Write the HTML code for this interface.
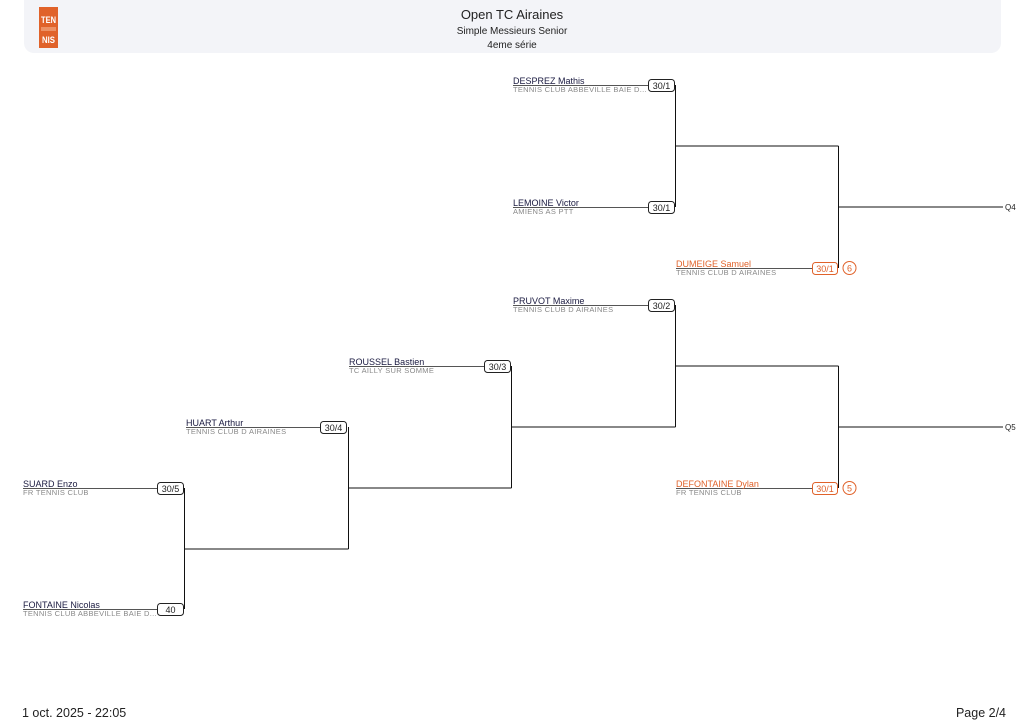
<!DOCTYPE html>
<html><head><meta charset="utf-8"><style>
body{margin:0;background:#fff;width:1024px;height:723px;overflow:hidden;font-family:"Liberation Sans",sans-serif}
</style></head><body>
<svg width="1024" height="723" xmlns="http://www.w3.org/2000/svg" font-family="Liberation Sans, sans-serif">
<rect x="24" y="-10" width="977" height="63" rx="10" fill="#f3f4f8"/>
<rect x="39" y="7" width="19" height="41" fill="#e0622a"/>
<text x="48.5" y="23" font-size="9" font-weight="bold" fill="#fff" text-anchor="middle" textLength="15" lengthAdjust="spacingAndGlyphs">TEN</text>
<text x="48.5" y="43" font-size="9" font-weight="bold" fill="#fff" text-anchor="middle" textLength="13" lengthAdjust="spacingAndGlyphs">NIS</text>
<line x1="41" y1="28" x2="56" y2="28" stroke="#f7c0a0" stroke-width="1"/>
<line x1="41" y1="30" x2="56" y2="30" stroke="#f7c0a0" stroke-width="1"/>
<text x="512" y="19" font-size="13" fill="#222" text-anchor="middle">Open TC Airaines</text>
<text x="512" y="34" font-size="10" fill="#222" text-anchor="middle">Simple Messieurs Senior</text>
<text x="512" y="48" font-size="10" fill="#222" text-anchor="middle">4eme série</text>

<g stroke="#111" stroke-width="1" fill="none">
<path d="M675.5 85V207M675.5 146H838.5M838.5 146V268M838.5 207H1003"/>
<path d="M184.5 488V609M184.5 549H348.5M348.5 427V549M348.5 488H511.5M511.5 366V488M511.5 427H675.5M675.5 305V427M675.5 366H838.5M838.5 366V488M838.5 427H1003"/>
</g>
<g font-size="9" fill="#1a1a40">
<g stroke="#555" stroke-width="1">
<line x1="513" y1="85.5" x2="648" y2="85.5"/>
<line x1="513" y1="207.5" x2="648" y2="207.5"/>
<line x1="676" y1="268.5" x2="812" y2="268.5"/>
<line x1="513" y1="305.5" x2="648" y2="305.5"/>
<line x1="349" y1="366.5" x2="484" y2="366.5"/>
<line x1="186" y1="427.5" x2="320" y2="427.5"/>
<line x1="23" y1="488.5" x2="157" y2="488.5"/>
<line x1="23" y1="609.5" x2="157" y2="609.5"/>
<line x1="676" y1="488.5" x2="812" y2="488.5"/>
</g>
<text x="513" y="84">DESPREZ Mathis</text>
<text x="513" y="206">LEMOINE Victor</text>
<text x="676" y="267" fill="#e0622a">DUMEIGE Samuel</text>
<text x="513" y="304">PRUVOT Maxime</text>
<text x="349" y="365">ROUSSEL Bastien</text>
<text x="186" y="426">HUART Arthur</text>
<text x="23" y="487">SUARD Enzo</text>
<text x="23" y="608">FONTAINE Nicolas</text>
<text x="676" y="487" fill="#e0622a">DEFONTAINE Dylan</text>
</g>
<g font-size="7.5" fill="#888" letter-spacing="0.3">
<text x="513" y="92">TENNIS CLUB ABBEVILLE BAIE D...</text>
<text x="513" y="214">AMIENS AS PTT</text>
<text x="676" y="275">TENNIS CLUB D AIRAINES</text>
<text x="513" y="312">TENNIS CLUB D AIRAINES</text>
<text x="349" y="373">TC AILLY SUR SOMME</text>
<text x="186" y="434">TENNIS CLUB D AIRAINES</text>
<text x="23" y="495">FR TENNIS CLUB</text>
<text x="23" y="616">TENNIS CLUB ABBEVILLE BAIE D...</text>
<text x="676" y="495">FR TENNIS CLUB</text>
</g>
<g font-size="9" text-anchor="middle">
<g fill="#fff" stroke="#222">
<rect x="648.5" y="79.5" width="26" height="12" rx="3"/>
<rect x="648.5" y="201.5" width="26" height="12" rx="3"/>
<rect x="648.5" y="299.5" width="26" height="12" rx="3"/>
<rect x="484.5" y="360.5" width="26" height="12" rx="3"/>
<rect x="320.5" y="421.5" width="26" height="12" rx="3"/>
<rect x="157.5" y="482.5" width="26" height="12" rx="3"/>
<rect x="157.5" y="603.5" width="26" height="12" rx="3"/>
</g>
<g fill="#fff" stroke="#e0622a">
<rect x="812.5" y="262.5" width="25" height="12" rx="3"/>
<rect x="812.5" y="482.5" width="25" height="12" rx="3"/>
<circle cx="849.5" cy="268" r="6.5"/>
<circle cx="849.5" cy="488" r="6.5"/>
</g>
<g fill="#222">
<text x="661.5" y="89">30/1</text>
<text x="661.5" y="211">30/1</text>
<text x="661.5" y="309">30/2</text>
<text x="497.5" y="370">30/3</text>
<text x="333.5" y="431">30/4</text>
<text x="170.5" y="492">30/5</text>
<text x="170.5" y="613">40</text>
</g>
<g fill="#e0622a">
<text x="825" y="272">30/1</text>
<text x="825" y="492">30/1</text>
<text x="849.5" y="271.5" font-size="9">6</text>
<text x="849.5" y="491.5" font-size="9">5</text>
</g>
</g>
<text x="1005" y="210" font-size="8" fill="#222">Q4</text>
<text x="1005" y="430" font-size="8" fill="#222">Q5</text>
<text x="22" y="717" font-size="12.5" fill="#222">1 oct. 2025 - 22:05</text>
<text x="1006" y="717" font-size="12.5" fill="#222" text-anchor="end">Page 2/4</text>
</svg>
</body></html>
